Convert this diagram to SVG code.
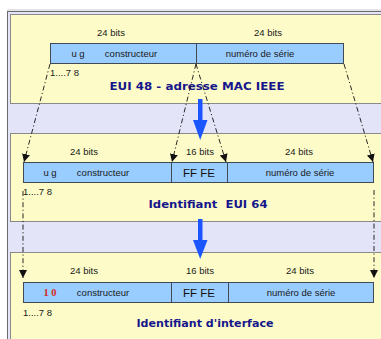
<svg xmlns="http://www.w3.org/2000/svg" width="381" height="339" viewBox="0 0 381 339">
  <style>
    .frame { fill: #e4e4f8; stroke: #6a6a6a; stroke-width: 1; }
    .panel { fill: #fdfcc8; stroke: #8a8a8a; stroke-width: 1; }
    .field { fill: #99ccff; stroke: #404a55; stroke-width: 1; }
    .sep { stroke: #404a55; stroke-width: 1; }
    .lbl { font-family: "Liberation Sans", Arial, sans-serif; font-size: 9.5px; fill: #1a1a1a; text-anchor: middle; }
    .sm { font-family: "Liberation Sans", Arial, sans-serif; font-size: 9.5px; fill: #1a1a1a; }
    .big { font-family: "Liberation Sans", Arial, sans-serif; font-size: 11.5px; fill: #111; text-anchor: middle; }
    .title { font-family: "DejaVu Sans", "Liberation Sans", sans-serif; font-weight: bold; font-size: 11px; fill: #16168c; text-anchor: middle; }
    .bitval { font-family: "Liberation Serif", "Times New Roman", serif; font-weight: bold; font-size: 10.5px; fill: #d42a1e; text-anchor: middle; }
    .link { fill: none; stroke: #111; stroke-width: 0.9; stroke-dasharray: 5 2.5 1.2 2.5; }
    .step { fill: #1a55ff; }
  </style>
  <defs>
    <marker id="tri" viewBox="0 0 10 10" refX="10" refY="5" markerWidth="8" markerHeight="8" markerUnits="userSpaceOnUse" orient="auto">
      <path d="M0,0 L10,5 L0,10 Z" fill="#111"/>
    </marker>
  </defs>

  <rect width="381" height="339" fill="#ffffff"/>

  <!-- outer frame and three stage panels -->
  <g id="frame">
    <rect class="frame" x="7.5" y="11.5" width="400" height="340"/>
    <line x1="7" y1="10" x2="381" y2="10" stroke="#c8c8d0" stroke-width="1"/>
  </g>

  <g id="stage-eui48">
    <rect class="panel" x="10.5" y="14.5" width="400" height="89"/>
    <text class="lbl" x="111" y="36">24 bits</text>
    <text class="lbl" x="268" y="36">24 bits</text>
    <rect class="field" x="50.5" y="43.5" width="293" height="20"/>
    <line class="sep" x1="196.5" y1="43.5" x2="196.5" y2="63.5"/>
    <text class="lbl" x="78" y="57">u g</text>
    <text class="lbl" x="131" y="57">constructeur</text>
    <text class="lbl" x="260" y="57">numéro de série</text>
    <text class="sm" x="50" y="76">1....7 8</text>
    <text class="title" x="197" y="90" textLength="175" lengthAdjust="spacingAndGlyphs">EUI 48 - adresse MAC IEEE</text>
  </g>

  <g id="stage-eui64">
    <rect class="panel" x="10.5" y="133.5" width="400" height="88"/>
    <text class="lbl" x="84" y="155">24 bits</text>
    <text class="lbl" x="200" y="155">16 bits</text>
    <text class="lbl" x="299" y="155">24 bits</text>
    <rect class="field" x="23.5" y="162.5" width="350" height="20"/>
    <line class="sep" x1="171.5" y1="162.5" x2="171.5" y2="182.5"/>
    <line class="sep" x1="227.5" y1="162.5" x2="227.5" y2="182.5"/>
    <text class="lbl" x="50" y="176">u g</text>
    <text class="lbl" x="103" y="176">constructeur</text>
    <text class="big" x="199" y="177">FF FE</text>
    <text class="lbl" x="300" y="176">numéro de série</text>
    <text class="sm" x="23" y="195">1....7 8</text>
    <text class="title" x="208" y="208" textLength="119" lengthAdjust="spacingAndGlyphs" xml:space="preserve">Identifiant  EUI 64</text>
  </g>

  <g id="stage-interface-id">
    <rect class="panel" x="10.5" y="252.5" width="400" height="100"/>
    <text class="lbl" x="84" y="274">24 bits</text>
    <text class="lbl" x="200" y="274">16 bits</text>
    <text class="lbl" x="300" y="274">24 bits</text>
    <rect class="field" x="23.5" y="282.5" width="350" height="20"/>
    <line class="sep" x1="171.5" y1="282.5" x2="171.5" y2="302.5"/>
    <line class="sep" x1="228.5" y1="282.5" x2="228.5" y2="302.5"/>
    <text class="bitval" x="50" y="296">1 0</text>
    <text class="lbl" x="103" y="296">constructeur</text>
    <text class="big" x="199" y="297">FF FE</text>
    <text class="lbl" x="301" y="296">numéro de série</text>
    <text class="sm" x="23" y="316">1....7 8</text>
    <text class="title" x="205" y="327" textLength="137" lengthAdjust="spacingAndGlyphs">Identifiant d'interface</text>
  </g>

  <!-- field mapping lines and stage arrows -->
  <g id="connectors">
    <path class="link" d="M50,64 L24,162" marker-end="url(#tri)"/>
    <path class="link" d="M196,64 L172,162" marker-end="url(#tri)"/>
    <path class="link" d="M196,64 L226,162" marker-end="url(#tri)"/>
    <path class="link" d="M344,64 L373,162" marker-end="url(#tri)"/>
    <path class="link" d="M23,191 L23,278" marker-end="url(#tri)"/>
    <path class="link" d="M374,190 L374,278" marker-end="url(#tri)"/>
    <g id="step-1">
      <rect class="step" x="198" y="99" width="4.5" height="22"/>
      <path class="step" d="M193,120 L207.5,120 L200.2,140 Z"/>
    </g>
    <g id="step-2">
      <rect class="step" x="198" y="219" width="4.5" height="22"/>
      <path class="step" d="M193,240 L207.5,240 L200.2,259 Z"/>
    </g>
  </g>
</svg>
